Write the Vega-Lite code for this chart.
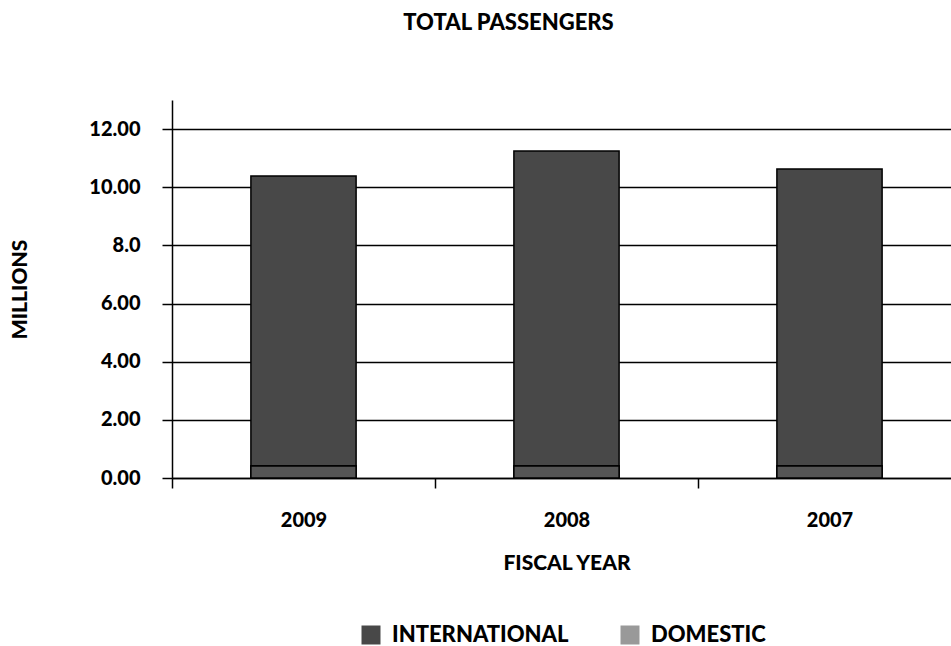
{
  "$schema": "https://vega.github.io/schema/vega-lite/v6.json",
  "width": 779,
  "height": 378,
  "autosize": {"type": "none"},
  "padding": {"left": 172, "top": 100, "right": 0, "bottom": 168},
  "background": "white",
  "config": {
    "font": "Lato",
    "view": {"stroke": null},
    "axis": {"labelFont": "Lato", "titleFont": "Lato", "labelFontWeight": 900, "titleFontWeight": 900, "labelColor": "#000", "titleColor": "#000", "domainColor": "#000", "tickColor": "#000", "domainWidth": 1.5, "tickWidth": 1.5}
  },
  "title": {"text": "TOTAL PASSENGERS", "font": "Lato", "fontSize": 22, "fontWeight": 900, "color": "#000", "anchor": "middle", "dx": -53, "offset": 65},
  "data": {"values": [
    {"year": "2009", "type": "INTERNATIONAL", "value": 9.98},
    {"year": "2009", "type": "DOMESTIC", "value": 0.41},
    {"year": "2008", "type": "INTERNATIONAL", "value": 10.84},
    {"year": "2008", "type": "DOMESTIC", "value": 0.41},
    {"year": "2007", "type": "INTERNATIONAL", "value": 10.22},
    {"year": "2007", "type": "DOMESTIC", "value": 0.41}
  ]},
  "encoding": {
    "x": {"field": "year", "type": "nominal", "sort": ["2009", "2008", "2007"],
      "scale": {"paddingInner": 0, "paddingOuter": 0, "range": [0, 789]},
      "axis": {"title": "FISCAL YEAR", "labelAngle": 0, "labelFontSize": 20, "titleFontSize": 21, "tickBand": "extent", "tickSize": 10, "labelPadding": 22, "titlePadding": 22, "domain": true}}
  },
  "layer": [
    {
      "mark": {"type": "bar", "stroke": "#000", "strokeWidth": 1.5, "width": {"band": 0.4}},
      "encoding": {
        "y": {"field": "value", "type": "quantitative", "stack": "zero",
          "scale": {"domain": [0, 13], "nice": false},
          "axis": {"title": "MILLIONS", "values": [0, 2, 4, 6, 8, 10, 12], "labelExpr": "datum.value == 8 ? '8.0' : format(datum.value, '.2f')", "labelFontSize": 20, "titleFontSize": 21, "tickSize": 10, "labelPadding": 22, "titlePadding": 58, "grid": true, "gridColor": "#000", "gridWidth": 1.5, "gridOpacity": 1}},
        "color": {"field": "type", "type": "nominal",
          "scale": {"domain": ["INTERNATIONAL", "DOMESTIC"], "range": ["#484848", "#999999"]},
          "legend": {"title": null, "orient": "none", "legendX": 188, "legendY": 524, "direction": "horizontal", "symbolType": "square", "symbolSize": 361, "symbolStrokeWidth": 0, "labelFont": "Lato", "labelFontSize": 22, "labelFontWeight": 900, "labelColor": "#000", "labelLimit": 400, "columnPadding": 50, "labelOffset": 10}},
        "order": {"field": "type", "sort": "ascending"}
      }
    },
    {
      "transform": [{"filter": "datum.type == 'DOMESTIC'"}],
      "mark": {"type": "bar", "fill": "#555555", "stroke": "#000", "strokeWidth": 1.5, "width": {"band": 0.4}},
      "encoding": {
        "y": {"field": "value", "type": "quantitative", "stack": null}
      }
    }
  ]
}
